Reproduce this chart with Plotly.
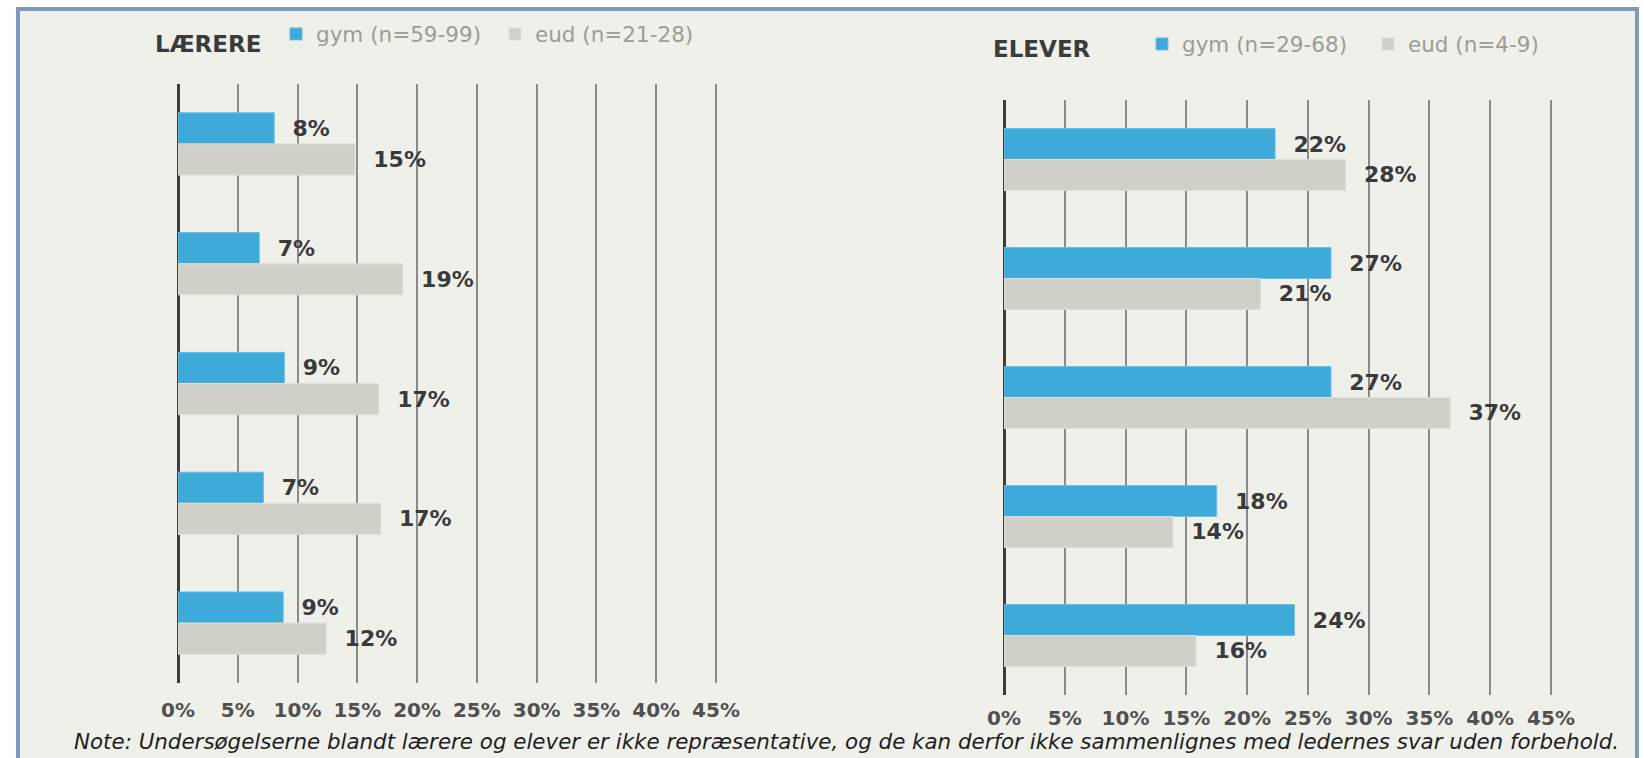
import plotly.graph_objects as go

W, H = 1643, 758

items = [1, 2, 3, 4, 5]
ticks = [0, 0.05, 0.10, 0.15, 0.20, 0.25, 0.30, 0.35, 0.40, 0.45]

# Lærere
laerere_gym = [0.0805, 0.068, 0.089, 0.0715, 0.088]
laerere_eud = [0.148, 0.188, 0.168, 0.1695, 0.124]
laerere_names = ['gym (n=59-99)', 'eud (n=21-28)']

# Elever
elever_gym = [0.223, 0.269, 0.269, 0.175, 0.239]
elever_eud = [0.281, 0.211, 0.367, 0.139, 0.158]
elever_names = ['gym (n=29-68)', 'eud (n=4-9)']

note = ('Note: Undersøgelserne blandt lærere og elever er ikke repræsentative, '
        'og de kan derfor ikke sammenlignes med ledernes svar uden forbehold.')

BLUE = '#3eaad9'
GREY = '#d1d0c8'
FONT = 'DejaVu Sans'
XMAX = 0.452  # a hair past 45% so the last gridline is drawn


def px_x(v):
    return v / W


def px_y(v):
    return 1 - v / H


def bar(vals, name, color, edge, xa, ya, legend):
    return go.Bar(
        x=vals, y=items, name=name, orientation='h',
        marker=dict(color=color, line=dict(color=edge, width=1)),
        texttemplate='\u00a0\u00a0%{x:.0%}',
        textposition='outside',
        textfont=dict(family=FONT, size=22, color='#3a3a3a', weight='bold'),
        cliponaxis=False,
        xaxis=xa, yaxis=ya, legend=legend,
    )


fig = go.Figure()

fig.add_trace(bar(laerere_gym, laerere_names[0], BLUE, '#6cc0e6', 'x', 'y', 'legend'))
fig.add_trace(bar(laerere_eud, laerere_names[1], GREY, '#dfded8', 'x', 'y', 'legend'))
fig.add_trace(bar(elever_gym, elever_names[0], BLUE, '#6cc0e6', 'x2', 'y2', 'legend2'))
fig.add_trace(bar(elever_eud, elever_names[1], GREY, '#dfded8', 'x2', 'y2', 'legend2'))

xaxis_style = dict(
    range=[0, XMAX],
    tickvals=ticks,
    tickformat='.0%',
    showgrid=True,
    gridcolor='#8a8a8a',
    gridwidth=1.5,
    zeroline=True,
    zerolinecolor='#3c3c3c',
    zerolinewidth=3,
    ticks='',
    tickfont=dict(family=FONT, size=20, color='#505050', weight='bold'),
    fixedrange=True,
)

yaxis_style = dict(
    range=[5.5, 0.5],
    showgrid=False,
    zeroline=False,
    showticklabels=False,
    ticks='',
    fixedrange=True,
)

legend_style = dict(
    orientation='h',
    xanchor='left',
    yanchor='middle',
    bgcolor='rgba(0,0,0,0)',
    font=dict(family=FONT, size=21.5, color='#9c9c94'),
    itemclick=False,
)

left_w = 538 * XMAX / 0.45
right_w = 547 * XMAX / 0.45

fig.update_layout(
    width=W,
    height=H,
    autosize=False,
    margin=dict(l=0, r=0, t=0, b=0, autoexpand=False),
    paper_bgcolor='white',
    plot_bgcolor='rgba(0,0,0,0)',
    font=dict(family=FONT),
    barmode='group',
    bargap=0.48,
    bargroupgap=0,
    xaxis=dict(domain=[px_x(178), px_x(178 + left_w)], anchor='y',
               ticklabelstandoff=13, **xaxis_style),
    yaxis=dict(domain=[px_y(683), px_y(84)], anchor='x', **yaxis_style),
    xaxis2=dict(domain=[px_x(1004), px_x(1004 + right_w)], anchor='y2',
                ticklabelstandoff=9, **xaxis_style),
    yaxis2=dict(domain=[px_y(695), px_y(100)], anchor='x2', **yaxis_style),
    legend=dict(x=px_x(276), y=px_y(34), entrywidth=174, **legend_style),
    legend2=dict(x=px_x(1142), y=px_y(44), entrywidth=181, **legend_style),
    shapes=[dict(
        type='rect', xref='paper', yref='paper', layer='below',
        x0=px_x(18), x1=px_x(1637), y0=-0.05, y1=px_y(9),
        line=dict(color='#7d9cb9', width=4),
        fillcolor='#f0f0eb',
    )],
    annotations=[
        dict(text='<b>LÆRERE</b>', x=px_x(153), y=px_y(44), xref='paper', yref='paper',
             xanchor='left', yanchor='middle', showarrow=False,
             font=dict(family=FONT, size=23, color='#3b3b3b')),
        dict(text='<b>ELEVER</b>', x=px_x(991), y=px_y(49), xref='paper', yref='paper',
             xanchor='left', yanchor='middle', showarrow=False,
             font=dict(family=FONT, size=23, color='#3b3b3b')),
        dict(text='<i>' + note + '</i>', x=px_x(846), y=px_y(741), xref='paper', yref='paper',
             xanchor='center', yanchor='middle', showarrow=False,
             font=dict(family=FONT, size=21.4, color='#1e1e1e')),
    ],
)

fig.write_html('out.html', config={'displayModeBar': False},
               post_script="document.body.style.margin='0';")
